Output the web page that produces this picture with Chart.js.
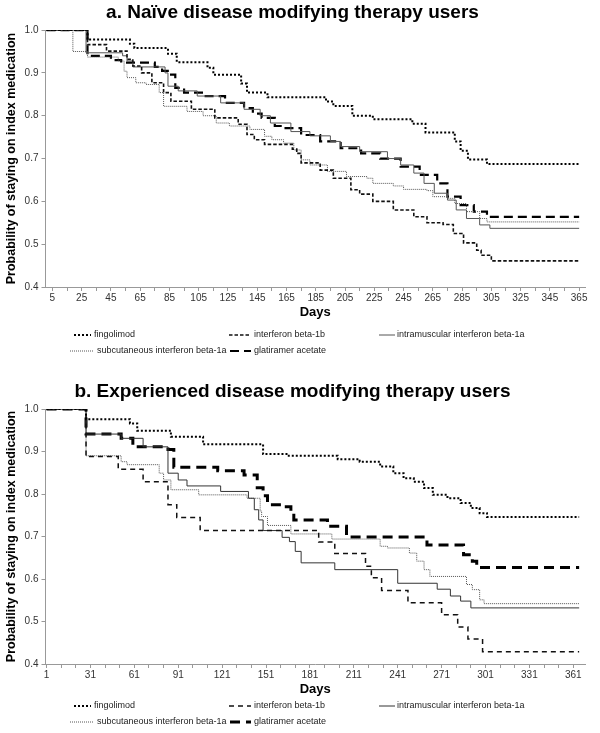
<!DOCTYPE html>
<html><head><meta charset="utf-8">
<script src="https://cdn.jsdelivr.net/npm/chart.js@4.4.1/dist/chart.umd.min.js"></script>
<style>
html,body{margin:0;padding:0;background:#fff;}
canvas{display:block}
</style></head><body>
<canvas id="ca" width="600" height="365"></canvas>
<canvas id="cb" width="600" height="368"></canvas>
<script>
// ---------- DATA ----------
const seriesNames = ['fingolimod','interferon beta-1b','intramuscular interferon beta-1a','subcutaneous interferon beta-1a','glatiramer acetate'];

// a. Naive users
const daysA_fingolimod = [1,29,58,61,84,90,111,115,134,138,152,192,197,210,224,251,260,280,284,289,302,365];
const survA_fingolimod = [1,0.978,0.968,0.958,0.945,0.925,0.912,0.896,0.875,0.854,0.843,0.833,0.823,0.80,0.792,0.781,0.761,0.74,0.718,0.698,0.687,0.687];
const daysA_ifnb1b = [1,29,42,56,60,66,73,81,86,100,116,132,138,143,150,169,172,175,188,197,209,215,224,238,252,261,272,279,286,295,298,305,365];
const survA_ifnb1b = [1,0.966,0.951,0.932,0.916,0.90,0.877,0.854,0.834,0.815,0.795,0.78,0.756,0.744,0.733,0.722,0.712,0.69,0.673,0.654,0.627,0.617,0.60,0.58,0.564,0.55,0.546,0.525,0.503,0.486,0.474,0.461,0.461];
const daysA_imIfnb1a = [1,28,53,56,60,82,84,91,104,120,136,147,154,168,181,195,202,215,234,243,252,259,266,275,281,288,297,304,365];
const survA_imIfnb1a = [1,0.947,0.94,0.928,0.914,0.90,0.869,0.858,0.846,0.83,0.815,0.80,0.783,0.763,0.753,0.74,0.728,0.716,0.70,0.685,0.666,0.642,0.619,0.603,0.58,0.56,0.545,0.537,0.537];
const daysA_scIfnb1a = [1,19,29,50,54,56,62,69,78,81,97,108,117,126,140,150,155,163,170,175,181,193,206,220,224,238,245,261,265,275,280,288,297,302,365];
const survA_scIfnb1a = [1,0.95,0.937,0.928,0.904,0.889,0.877,0.873,0.854,0.822,0.81,0.80,0.783,0.776,0.768,0.752,0.744,0.736,0.72,0.697,0.685,0.67,0.658,0.654,0.642,0.636,0.628,0.625,0.611,0.607,0.595,0.576,0.56,0.552,0.552];
const daysA_glatiramer = [1,29,45,52,75,80,85,89,95,109,123,136,142,148,157,161,175,188,202,216,229,243,256,268,275,284,293,302,365];
const survA_glatiramer = [1,0.94,0.93,0.924,0.914,0.905,0.896,0.865,0.854,0.846,0.83,0.818,0.805,0.795,0.776,0.771,0.755,0.74,0.724,0.712,0.70,0.681,0.662,0.642,0.611,0.591,0.576,0.564,0.564];

// b. Experienced users
const daysB_fingolimod = [1,28,58,63,86,108,149,165,200,215,229,238,245,252,259,265,275,284,291,297,302,365];
const survB_fingolimod = [1,0.976,0.966,0.949,0.935,0.917,0.894,0.89,0.882,0.876,0.865,0.849,0.837,0.829,0.814,0.798,0.79,0.779,0.767,0.755,0.746,0.746];
const daysB_ifnb1b = [1,28,50,67,84,90,106,187,198,219,223,230,248,271,282,289,299,365];
const survB_ifnb1b = [1,0.888,0.858,0.829,0.775,0.745,0.714,0.687,0.66,0.63,0.603,0.573,0.544,0.516,0.487,0.459,0.429,0.429];
const daysB_imIfnb1a = [1,28,52,67,84,91,97,120,139,143,146,149,162,167,171,175,198,241,268,277,284,291,365];
const survB_imIfnb1a = [1,0.941,0.931,0.911,0.849,0.833,0.819,0.806,0.79,0.763,0.739,0.714,0.698,0.688,0.665,0.638,0.622,0.59,0.576,0.56,0.548,0.532,0.532];
const daysB_scIfnb1a = [1,28,52,56,78,81,86,105,138,147,148,152,168,196,229,234,249,254,259,263,288,292,297,300,365];
const survB_scIfnb1a = [1,0.89,0.876,0.869,0.849,0.833,0.81,0.798,0.79,0.76,0.747,0.726,0.706,0.694,0.677,0.673,0.661,0.642,0.622,0.606,0.587,0.575,0.551,0.542,0.542];
const daysB_glatiramer = [1,28,52,60,84,88,118,136,145,149,152,163,168,170,193,206,261,286,292,295,365];
const survB_glatiramer = [1,0.941,0.931,0.911,0.905,0.863,0.855,0.845,0.815,0.796,0.775,0.77,0.755,0.739,0.724,0.699,0.68,0.657,0.642,0.627,0.627];

// tick labels
const xTickLabelsA = [5,25,45,65,85,105,125,145,165,185,205,225,245,265,285,305,325,345,365];
const xTickLabelsB = [1,31,61,91,121,151,181,211,241,271,301,331,361];
const yTickLabels = [0.4,0.5,0.6,0.7,0.8,0.9,1.0];

// ---------- RENDER ----------
const FONT = '"Liberation Sans", Arial, Helvetica, sans-serif';
Chart.defaults.font.family = FONT;

function pts(days, surv){ return days.map((d,i)=>({x:d, y:surv[i]})); }

const legendPlugin = {
  id:'kmLegend',
  afterDraw(chart, args, opts){
    const ctx = chart.ctx;
    ctx.save();
    chart.data.datasets.forEach((ds,i)=>{
      const s = opts.slots[i]; const y = opts.rows[s.row];
      ctx.beginPath();
      ctx.setLineDash(ds.borderDash||[]);
      ctx.lineWidth = ds.borderWidth; ctx.strokeStyle = ds.borderColor; ctx.lineCap='butt';
      ctx.moveTo(s.x0, y); ctx.lineTo(s.x1, y); ctx.stroke();
      ctx.setLineDash([]);
      ctx.fillStyle = '#222'; ctx.font = '9px ' + FONT;
      ctx.textBaseline='middle'; ctx.textAlign='left';
      ctx.fillText(ds.label, s.tx, y);
    });
    ctx.restore();
  }
};

const slots = [
  {row:0,x0:74,x1:91,tx:94},
  {row:0,x0:229,x1:251,tx:254},
  {row:0,x0:379,x1:395,tx:397},
  {row:1,x0:70,x1:94,tx:97},
  {row:1,x0:230,x1:251,tx:254}
];

function makeChart(id, cfg){
  const tickMarks = [];
  for (let v = cfg.labels[0]; v <= cfg.labels[cfg.labels.length-1]; v += 10) tickMarks.push(v);
  const datasets = cfg.series.map((s,i)=>Object.assign({
    label: seriesNames[i], data: pts(s[0], s[1]), stepped: 'before',
    pointRadius:0, fill:false, borderCapStyle:'butt', borderJoinStyle:'miter', tension:0
  }, cfg.styles[i]));
  return new Chart(document.getElementById(id), {
    type:'line',
    data:{datasets},
    options:{
      responsive:false, animation:false, devicePixelRatio:1,
      layout:{padding:{left:0,right:15,top:0,bottom:cfg.bottomPad}},
      plugins:{
        legend:{display:false}, tooltip:{enabled:false},
        title:{display:true, text:cfg.title, color:'#000',
          font:{size:19, weight:'bold', family:FONT, lineHeight:1.2},
          padding:{top:cfg.titleTop, bottom:cfg.titleBottom}},
        kmLegend:{slots, rows:cfg.legendRows}
      },
      scales:{
        x:{type:'linear', min:0.3, max:369,
          afterBuildTicks:(s)=>{ s.ticks = tickMarks.map(v=>({value:v})); },
          afterFit:(s)=>{ s.height = 34.8; },
          grid:{drawOnChartArea:false, drawTicks:true, tickLength:4, tickColor:'#999'},
          border:{display:true, color:'#999', width:1},
          ticks:{autoSkip:false, maxRotation:0, minRotation:0, padding:1, color:'#333',
            font:{size:10, family:FONT},
            callback:(v)=> cfg.labels.includes(v) ? String(v) : ''},
          title:{display:true, text:'Days', color:'#000', font:{size:13, weight:'bold', family:FONT}, padding:{top:0,bottom:2}}
        },
        y:{type:'linear', min:0.4, max:1.0,
          afterBuildTicks:(s)=>{ s.ticks = yTickLabels.map(v=>({value:v})); },
          afterFit:(s)=>{ s.width = 45.5; },
          grid:{drawOnChartArea:false, drawTicks:true, tickLength:4, tickColor:'#999'},
          border:{display:true, color:'#999', width:1},
          ticks:{padding:3, color:'#333', font:{size:10, family:FONT}, callback:(v)=>Number(v).toFixed(1)},
          title:{display:true, text:'Probability of staying on index medication', color:'#000',
            font:{size:12.5, weight:'bold', family:FONT}, padding:{top:4,bottom:0}}
        }
      }
    },
    plugins:[legendPlugin]
  });
}

const stylesA = [
  {borderColor:'#000', borderWidth:2, borderDash:[2,2]},
  {borderColor:'#111', borderWidth:1.6, borderDash:[3.5,2]},
  {borderColor:'#555', borderWidth:1, borderDash:[]},
  {borderColor:'#555', borderWidth:1, borderDash:[1,1]},
  {borderColor:'#000', borderWidth:2.2, borderDash:[9,5]}
];
const stylesB = [
  {borderColor:'#000', borderWidth:2, borderDash:[2,2]},
  {borderColor:'#111', borderWidth:1.5, borderDash:[5,4]},
  {borderColor:'#333', borderWidth:1, borderDash:[]},
  {borderColor:'#555', borderWidth:1, borderDash:[1,1]},
  {borderColor:'#000', borderWidth:3, borderDash:[10,6]}
];

makeChart('ca', {
  title:'a. Naïve disease modifying therapy users',
  titleTop:1.6, titleBottom:5.7, bottomPad:43.2, legendRows:[335,351],
  labels:xTickLabelsA, styles:stylesA,
  series:[[daysA_fingolimod,survA_fingolimod],[daysA_ifnb1b,survA_ifnb1b],[daysA_imIfnb1a,survA_imIfnb1a],[daysA_scIfnb1a,survA_scIfnb1a],[daysA_glatiramer,survA_glatiramer]]
});
makeChart('cb', {
  title:'b. Experienced disease modifying therapy users',
  titleTop:15.6, titleBottom:5.6, bottomPad:34.2, legendRows:[341,357],
  labels:xTickLabelsB, styles:stylesB,
  series:[[daysB_fingolimod,survB_fingolimod],[daysB_ifnb1b,survB_ifnb1b],[daysB_imIfnb1a,survB_imIfnb1a],[daysB_scIfnb1a,survB_scIfnb1a],[daysB_glatiramer,survB_glatiramer]]
});
</script>
</body></html>
